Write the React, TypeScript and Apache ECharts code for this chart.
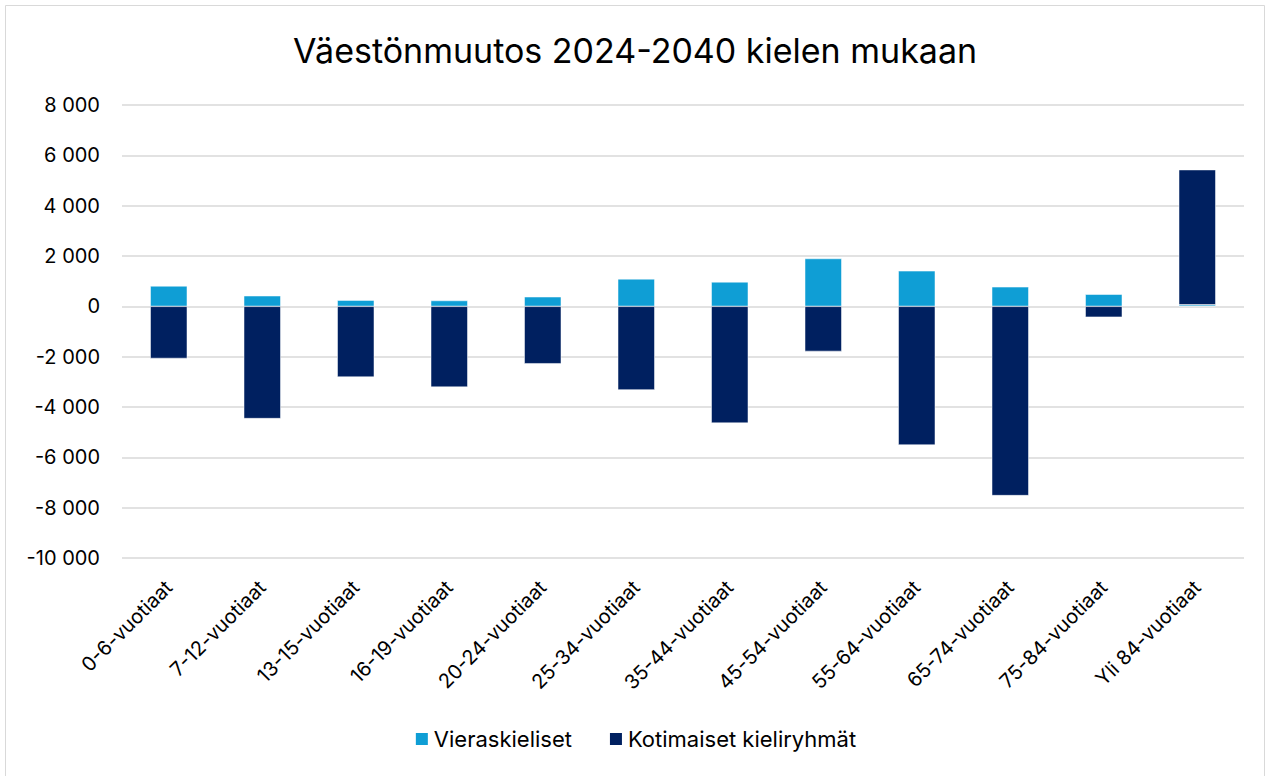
import React, { useEffect, useRef } from "react";
import * as echarts from "echarts";

const categories = [
  "0-6-vuotiaat",
  "7-12-vuotiaat",
  "13-15-vuotiaat",
  "16-19-vuotiaat",
  "20-24-vuotiaat",
  "25-34-vuotiaat",
  "35-44-vuotiaat",
  "45-54-vuotiaat",
  "55-64-vuotiaat",
  "65-74-vuotiaat",
  "75-84-vuotiaat",
  "Yli 84-vuotiaat",
];
const vieraskieliset = [810, 420, 245, 230, 380, 1090, 970, 1900, 1410, 775, 480, 60];
const kotimaiset = [-2070, -4460, -2810, -3210, -2280, -3320, -4640, -1790, -5510, -7520, -430, 5370];
const seriesNames = ["Vieraskieliset", "Kotimaiset kieliryhmät"];
const title = "Väestönmuutos 2024-2040 kielen mukaan";

const fmt = (v: number) => {
  const s = Math.abs(v).toString().replace(/\B(?=(\d{3})+(?!\d))/g, " ");
  return (v < 0 ? "-" : "") + s;
};

export default function App() {
  const ref = useRef<HTMLDivElement>(null);
  useEffect(() => {
    if (!ref.current) return;
    const chart = echarts.init(ref.current, undefined, { renderer: "svg" });
    const font = "Inter, 'Liberation Sans', Arial, sans-serif";
    chart.setOption({
      animation: false,
      backgroundColor: "#ffffff",
      title: {
        text: title,
        left: "center",
        top: 28,
        textStyle: { fontFamily: font, fontSize: 34, fontWeight: "normal", color: "#000000" },
      },
      graphic: [
        {
          type: "rect",
          shape: { x: 5.5, y: 5.5, width: 1259, height: 780 },
          style: { fill: "none", stroke: "#d9d9d9", lineWidth: 1 },
          silent: true,
        },
      ],
      legend: {
        data: seriesNames,
        bottom: 21,
        left: "center",
        icon: "rect",
        itemWidth: 14,
        itemHeight: 14,
        itemGap: 36,
        textStyle: { fontFamily: font, fontSize: 22, color: "#000000" },
      },
      grid: { left: 122, right: 26, top: 105, bottom: 218, containLabel: false },
      xAxis: {
        type: "category",
        data: categories,
        axisLine: { show: false },
        axisTick: { show: false },
        axisLabel: {
          rotate: 45,
          interval: 0,
          margin: 26,
          fontFamily: font,
          fontSize: 20,
          color: "#000000",
        },
      },
      yAxis: {
        type: "value",
        min: -10000,
        max: 8000,
        interval: 2000,
        axisLine: { show: false },
        axisTick: { show: false },
        splitLine: { lineStyle: { color: "#d9d9d9", width: 1.5 } },
        axisLabel: {
          formatter: (v: number) => fmt(v),
          margin: 22,
          fontFamily: font,
          fontSize: 20,
          color: "#000000",
        },
      },
      series: [
        {
          name: seriesNames[0],
          type: "bar",
          stack: "total",
          data: vieraskieliset,
          barWidth: 37,
          itemStyle: { color: "#0f9ed5", borderColor: "#ffffff", borderWidth: 0.5 },
        },
        {
          name: seriesNames[1],
          type: "bar",
          stack: "total",
          data: kotimaiset,
          barWidth: 37,
          itemStyle: { color: "#002060", borderColor: "#ffffff", borderWidth: 0.5 },
        },
      ],
    });
    return () => chart.dispose();
  }, []);
  return (
    <div
      ref={ref}
      style={{ position: "fixed", left: 0, top: 0, width: 1270, height: 776 }}
    />
  );
}
